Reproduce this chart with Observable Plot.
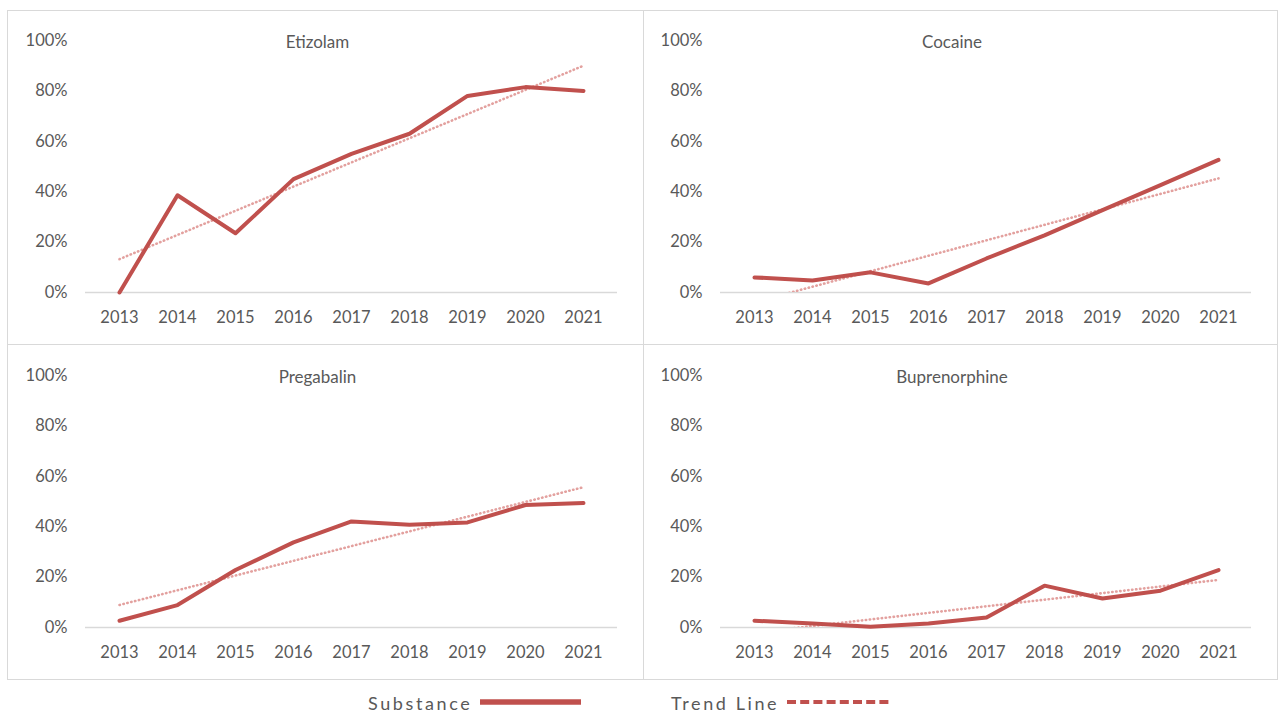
<!DOCTYPE html>
<html>
<head>
<meta charset="utf-8">
<script src="https://cdn.jsdelivr.net/npm/d3@7"></script>
<script src="https://cdn.jsdelivr.net/npm/@observablehq/plot@0.6"></script>
<style>
  html, body { margin: 0; padding: 0; background: #fff; }
  #wrap { position: relative; width: 1278px; height: 713px; overflow: hidden; font-family: Lato, sans-serif; }
  .panel { position: absolute; }
  .border { position: absolute; box-sizing: border-box; }
</style>
</head>
<body>
<div id="wrap"></div>
<script>
// ---- data (percent of cases) ----
const years = [2013, 2014, 2015, 2016, 2017, 2018, 2019, 2020, 2021];
const substances = ["Etizolam", "Cocaine", "Pregabalin", "Buprenorphine"];
const etizolam      = [0, 38.6, 23.5, 45, 55, 63, 78, 81.5, 80];
const cocaine       = [6, 4.8, 8, 3.6, 13.5, 22.7, 32.7, 42.6, 52.6];
const pregabalin    = [2.7, 8.9, 22.8, 33.8, 42.1, 40.8, 41.7, 48.6, 49.4];
const buprenorphine = [2.7, 1.6, 0.3, 1.6, 4, 16.6, 11.5, 14.6, 22.8];
const yTicks = [0, 20, 40, 60, 80, 100];
const legendLabels = ["Substance", "Trend Line"];

const seriesValues = [etizolam, cocaine, pregabalin, buprenorphine];

const wrap = document.getElementById("wrap");

// outer frame and dividers
function box(l, t, w, h, css) {
  const d = document.createElement("div");
  d.className = "border";
  d.style.left = l + "px"; d.style.top = t + "px";
  d.style.width = w + "px"; d.style.height = h + "px";
  Object.assign(d.style, css);
  wrap.appendChild(d);
}
box(7, 10, 1271, 670, {border: "1px solid #d9d9d9"});
box(643, 10, 1, 670, {background: "#d9d9d9"});
box(7, 344, 1271, 1, {background: "#d9d9d9"});

const layout = [
  {left: 8, top: 10, width: 635},
  {left: 643, top: 10, width: 634},
  {left: 8, top: 345, width: 635},
  {left: 643, top: 345, width: 634}
];

substances.forEach((name, k) => {
  const rows = years.map((year, i) => ({year, value: seriesValues[k][i]}));
  const pos = layout[k];
  const chart = Plot.plot({
    width: pos.width,
    height: 335,
    marginLeft: 77,
    marginRight: 26,
    marginTop: 30,
    marginBottom: 53,
    x: {type: "point", domain: years, padding: 0.52, label: null},
    y: {domain: [0, 100], ticks: yTicks, label: null},
    style: {fontFamily: "Lato, sans-serif", fontSize: "17px", color: "#595959", background: "transparent", overflow: "visible"},
    marks: [
      Plot.axisX({tickSize: 0, tickPadding: 19, tickFormat: d => String(d), fontSize: 16.5}),
      Plot.axisY({ticks: yTicks, tickSize: 0, tickPadding: 18, tickFormat: d => d + "%", fontSize: 16.5}),
      Plot.ruleY([0], {stroke: "#d9d9d9", strokeWidth: 1.3}),
      Plot.linearRegressionY(rows, {x: "year", y: "value", ci: 0, stroke: "#e3a19f", strokeWidth: 2.6, strokeDasharray: "0.4,3.6", strokeLinecap: "round", clip: true}),
      Plot.line(rows, {x: "year", y: "value", stroke: "#c0504d", strokeWidth: 4, strokeLinejoin: "round", strokeLinecap: "round"}),
      Plot.text([name], {frameAnchor: "top", dx: -34, dy: 2, lineAnchor: "middle", fontSize: 17, fill: "#595959"})
    ]
  });
  const holder = document.createElement("div");
  holder.className = "panel";
  holder.style.left = pos.left + "px";
  holder.style.top = pos.top + "px";
  holder.appendChild(chart);
  wrap.appendChild(holder);
});

// legend
const ns = "http://www.w3.org/2000/svg";
const leg = document.createElementNS(ns, "svg");
leg.setAttribute("width", 1278);
leg.setAttribute("height", 33);
leg.style.position = "absolute";
leg.style.left = "0px";
leg.style.top = "680px";
function el(tag, attrs, text) {
  const e = document.createElementNS(ns, tag);
  for (const k in attrs) e.setAttribute(k, attrs[k]);
  if (text) e.textContent = text;
  leg.appendChild(e);
  return e;
}
el("text", {x: 368, y: 30, "font-family": "Lato, sans-serif", "font-size": 18, "letter-spacing": 2.6, fill: "#595959"}, legendLabels[0]);
el("line", {x1: 480, x2: 581, y1: 22, y2: 22, stroke: "#c0504d", "stroke-width": 5.5});
el("text", {x: 671, y: 30, "font-family": "Lato, sans-serif", "font-size": 18, "letter-spacing": 2.6, fill: "#595959"}, legendLabels[1]);
el("line", {x1: 787, x2: 890, y1: 22, y2: 22, stroke: "#c0504d", "stroke-width": 4, "stroke-dasharray": "9,4.2"});
wrap.appendChild(leg);
</script>
</body>
</html>
